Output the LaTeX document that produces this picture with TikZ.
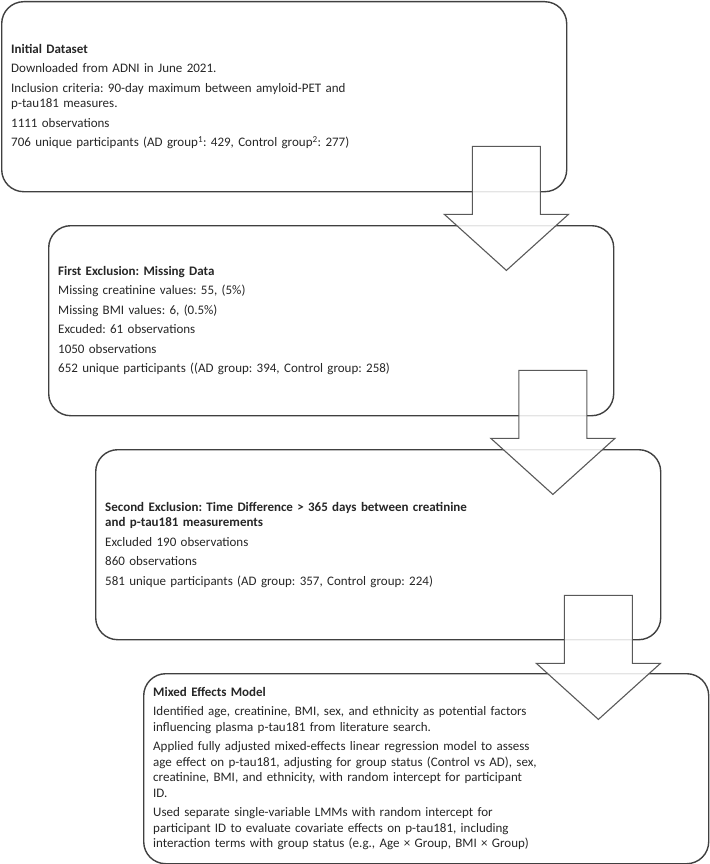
\documentclass[tikz,border=0pt]{standalone}
\usepackage{fontspec}
\setmainfont{Carlito}
\definecolor{boxgray}{RGB}{64,64,64}
\definecolor{arrowgray}{RGB}{89,89,89}
\begin{document}
\frenchspacing
\begin{tikzpicture}[x=1pt,y=-1pt,
  box/.style={draw=boxgray, line width=1.4pt, rounded corners=22pt, minimum width=565pt, minimum height=190pt, anchor=north west, inner sep=0pt},
  txt/.style={anchor=west, inner sep=0pt, text width=560pt, align=left, font=\frenchspacing\fontsize{13}{15.5}\selectfont, text=black!85},
  blockarrow/.style={draw=arrowgray, line width=1.1pt, fill=white, fill opacity=0.86, line join=miter}]
\useasboundingbox (0,0) rectangle (709,864);
\node[box] (b1) at (1,1) {};
\node[box] (b2) at (48,225) {};
\node[box] (b3) at (95,449) {};
\node[box] (b4) at (143,673) {};

\node[txt] (t1) at ([xshift=10pt]b1.west) {\textbf{Initial Dataset}\\[4pt]
Downloaded from ADNI in June 2021.\\[4pt]
Inclusion criteria: 90-day maximum between amyloid-PET and\\
p-tau181 measures.\\[4pt]
1111 observations\\[4pt]
706 unique participants (AD group\textsuperscript{1}: 429, Control group\textsuperscript{2}: 277)};

\node[txt] (t2) at ([xshift=10pt]b2.west) {\textbf{First Exclusion: Missing Data}\\[4pt]
Missing creatinine values: 55, (5\%)\\[4pt]
Missing BMI values: 6, (0.5\%)\\[4pt]
Excuded: 61 observations\\[4pt]
1050 observations\\[4pt]
652 unique participants ((AD group: 394, Control group: 258)};

\node[txt] (t3) at ([xshift=10pt]b3.west) {\textbf{Second Exclusion: Time Difference > 365 days between creatinine}\\
\textbf{and p-tau181 measurements}\\[4pt]
Excluded 190 observations\\[4pt]
860 observations\\[4pt]
581 unique participants (AD group: 357, Control group: 224)};

\node[txt] (t4) at ([xshift=10pt]b4.west) {\textbf{Mixed Effects Model}\\[4pt]
Identified age, creatinine, BMI, sex, and ethnicity as potential factors\\
influencing plasma p-tau181 from literature search.\\[4pt]
Applied fully adjusted mixed-effects linear regression model to assess\\
age effect on p-tau181, adjusting for group status (Control vs AD), sex,\\
creatinine, BMI, and ethnicity, with random intercept for participant\\
ID.\\[4pt]
Used separate single-variable LMMs with random intercept for\\
participant ID to evaluate covariate effects on p-tau181, including\\
interaction terms with group status (e.g., Age × Group, BMI × Group)};

\coordinate (a1) at ([shift={(-61,-46)}]b1.south east);
\coordinate (a2) at ([shift={(-61.5,-46)}]b2.south east);
\coordinate (a3) at ([shift={(-63,-45)}]b3.south east);
\foreach \a in {a1,a2,a3}{
  \draw[blockarrow] (\a) ++(-34,0) -- ++(68,0) -- ++(0,68) -- ++(28,0) -- ++(-62,56) -- ++(-62,-56) -- ++(28,0) -- cycle;
}
\end{tikzpicture}
\end{document}
